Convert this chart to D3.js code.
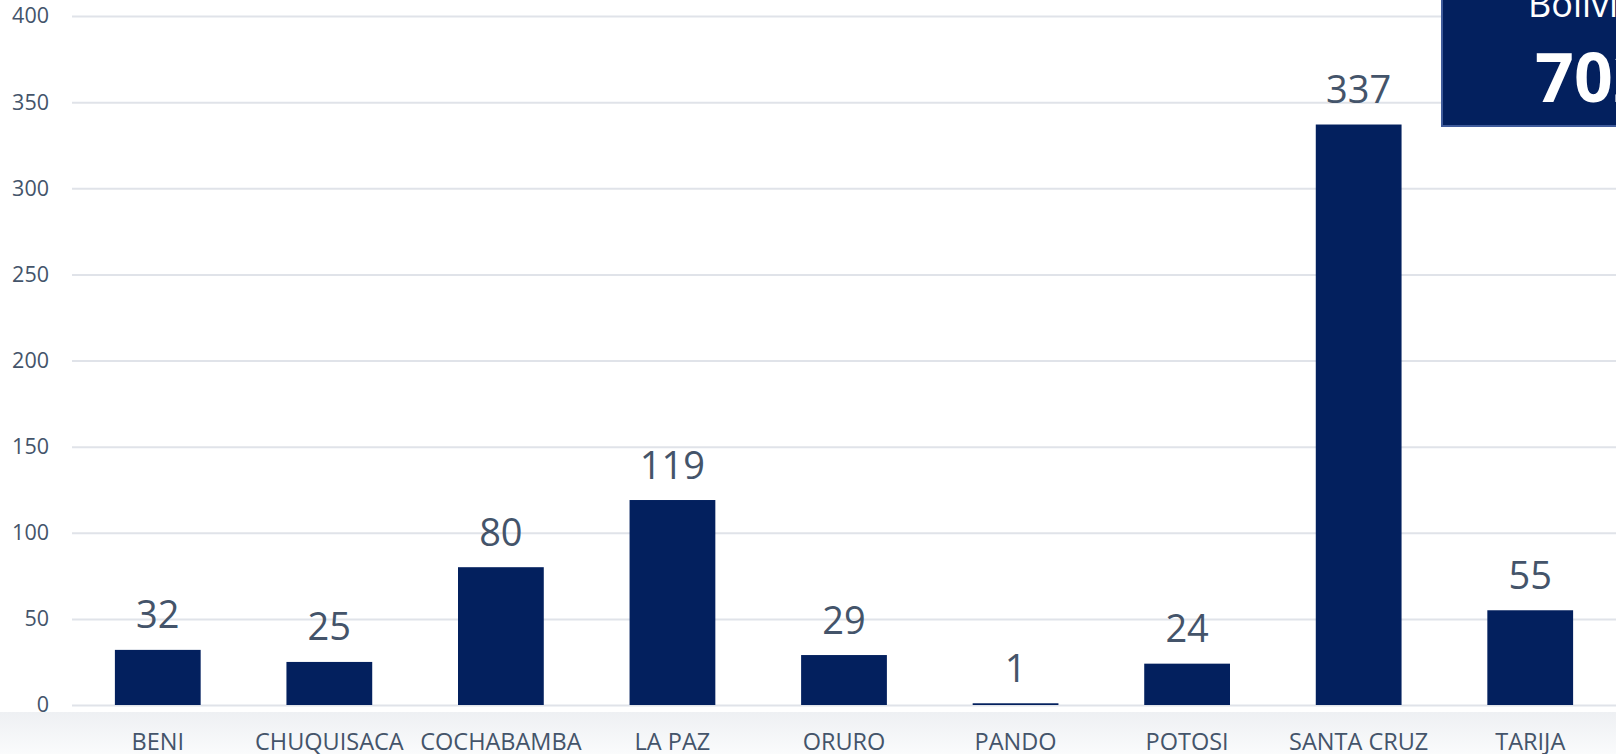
<!DOCTYPE html>
<html>
<head>
<meta charset="utf-8">
<script src="https://cdn.jsdelivr.net/npm/d3@7"></script>
<style>
html,body{margin:0;padding:0;background:#fff;overflow:hidden;}
svg{display:block;font-family:"Open Sans",sans-serif;}
</style>
</head>
<body>
<svg id="chart" width="1616" height="754"></svg>
<script>
const categories = ["BENI","CHUQUISACA","COCHABAMBA","LA PAZ","ORURO","PANDO","POTOSI","SANTA CRUZ","TARIJA"];
const values = [32,25,80,119,29,1,24,337,55];
const yTicks = [0,50,100,150,200,250,300,350,400];
const boxTitle = "Bolivia";
const total = d3.sum(values);

const W = 1616, H = 754;
const svg = d3.select("#chart");

const defs = svg.append("defs");
const grad = defs.append("linearGradient").attr("id","bg").attr("x1",0).attr("y1",0).attr("x2",0).attr("y2",1);
grad.append("stop").attr("offset","0%").attr("stop-color","#eef0f3");
grad.append("stop").attr("offset","100%").attr("stop-color","#fafbfc");
svg.append("rect").attr("x",0).attr("y",712).attr("width",W).attr("height",H-712).attr("fill","url(#bg)");

const x = d3.scaleBand().domain(categories).range([72, W]).paddingInner(0.5).paddingOuter(0.25);
const y = d3.scaleLinear().domain([0,400]).range([705,16]);

const textColor = "#44546a";

// y axis with gridlines
const yAxis = svg.append("g").attr("transform","translate(72,0)")
  .call(d3.axisLeft(y).tickValues(yTicks).tickSize(-(W-72)).tickPadding(23));
yAxis.select(".domain").remove();
yAxis.selectAll(".tick line").attr("stroke","#e0e3e9").attr("stroke-width",2);
yAxis.selectAll(".tick text").attr("fill",textColor).attr("font-size","21.5px").attr("font-family","Open Sans, sans-serif");

// bars
svg.append("g").selectAll("rect").data(values).join("rect")
  .attr("x",(d,i)=>x(categories[i]))
  .attr("y",d=>y(d))
  .attr("width",x.bandwidth())
  .attr("height",d=>y(0)-y(d))
  .attr("fill","#03205e");

// value labels
svg.append("g").selectAll("text").data(values).join("text")
  .attr("x",(d,i)=>x(categories[i])+x.bandwidth()/2)
  .attr("y",d=>y(d)-21.5)
  .attr("text-anchor","middle")
  .attr("fill",textColor)
  .attr("font-size","38px")
  .text(d=>d);

// x axis
const xAxis = svg.append("g").attr("transform","translate(0,705)")
  .call(d3.axisBottom(x).tickSize(0));
xAxis.select(".domain").remove();
xAxis.selectAll(".tick text").attr("y",45).attr("dy",0)
  .attr("fill",textColor).attr("font-size","23.5px").attr("font-family","Open Sans, sans-serif");

// total box
const box = svg.append("g");
box.append("rect").attr("x",1442).attr("y",-10).attr("width",320).attr("height",136)
  .attr("fill","#03205e").attr("stroke","#3f5b9b").attr("stroke-width",2);
box.append("text").attr("x",1528).attr("y",17).attr("fill","#fff").attr("font-size","36px").text(boxTitle);
box.append("text").attr("x",1535).attr("y",102).attr("fill","#fff").attr("font-size","68px").attr("font-weight","bold").text(total);
</script>
</body>
</html>
